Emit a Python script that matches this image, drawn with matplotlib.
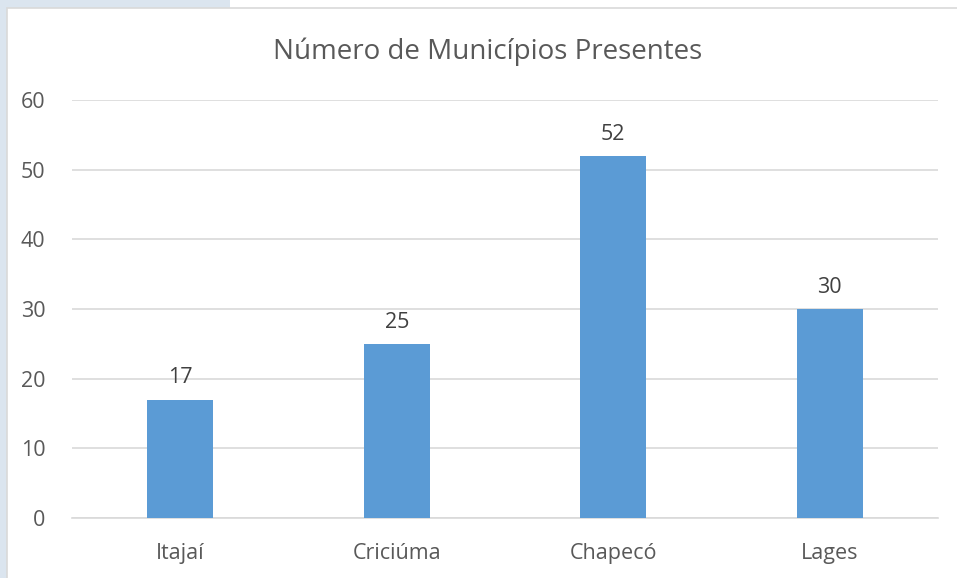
import matplotlib
matplotlib.use("Agg")
import matplotlib.pyplot as plt
from matplotlib.patches import Rectangle

categories = ["Itajaí", "Criciúma", "Chapecó", "Lages"]
values = [17, 25, 52, 30]
yticks = [0, 10, 20, 30, 40, 50, 60]
title = "Número de Municípios Presentes"

W, H = 957, 578
fig = plt.figure(figsize=(W / 100, H / 100), dpi=100)
fig.patch.set_facecolor("white")
plt.rcParams['font.family'] = ['Open Sans', 'DejaVu Sans']

# background watermark-ish strip
fig.add_artist(Rectangle((0, 0), 7 / W, 1, transform=fig.transFigure, facecolor="#dbe5ef", edgecolor="none", zorder=0))
fig.add_artist(Rectangle((0, 1 - 8 / H), 230 / W, 8 / H, transform=fig.transFigure, facecolor="#dbe5ef", edgecolor="none", zorder=0))
fig.add_artist(Rectangle((7 / W, -0.01), 1, 1 - 8 / H + 0.01, transform=fig.transFigure, facecolor="white", edgecolor="#d9d9d9", linewidth=1.2, zorder=0))

ax = fig.add_axes([72 / W, 1 - 518 / H, (938 - 72) / W, (518 - 100) / H])
ax.set_facecolor("none")
x = range(len(categories))
bars = ax.bar(x, values, width=0.305, color="#5b9bd5", zorder=3)
ax.set_xlim(-0.5, len(categories) - 0.5)
ax.set_ylim(0, 60)
ax.set_yticks(yticks)
ax.set_xticks(list(x))
ax.set_xticklabels(categories)
ax.grid(axis="y", color="#d9d9d9", linewidth=1.2, zorder=0)
for s in ["top", "right", "left"]:
    ax.spines[s].set_visible(False)
ax.spines["bottom"].set_color("#d9d9d9")
ax.spines["bottom"].set_linewidth(1.2)
ax.tick_params(axis="both", length=0, colors="#595959", labelsize=15.5)
ax.tick_params(axis="x", pad=18)
ax.tick_params(axis="y", pad=19)
for b, v in zip(bars, values):
    ax.annotate(str(v), (b.get_x() + b.get_width() / 2, v), xytext=(0, 8), textcoords="offset points",
                ha="center", va="bottom", fontsize=15.5, color="#404040")
fig.text(488 / W, 1 - 52 / H, title, ha="center", va="center", fontsize=20, color="#595959")
fig.savefig("out.png", dpi=100)
